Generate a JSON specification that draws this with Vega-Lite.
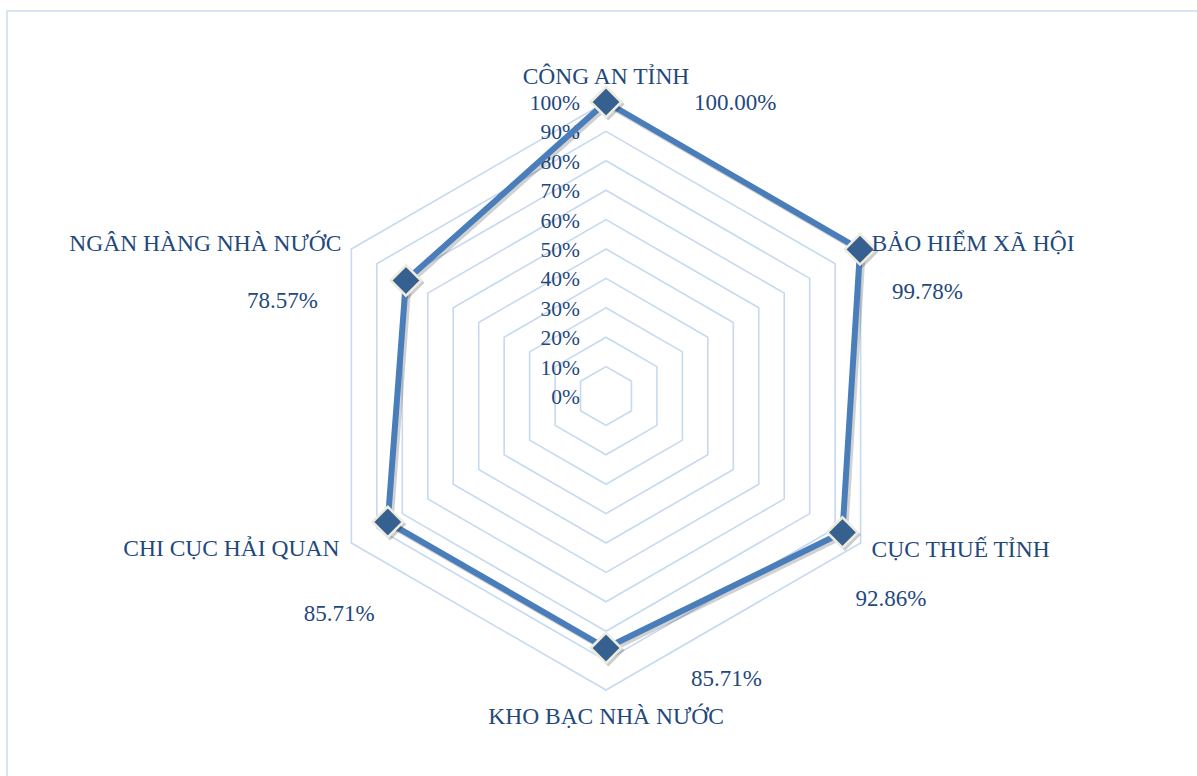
{
  "$schema": "https://vega.github.io/schema/vega-lite/v6.json",
  "width": 1197,
  "height": 776,
  "autosize": {"type": "none"},
  "padding": {"left": 7, "top": 11, "right": 0, "bottom": 0},
  "background": "#ffffff",
  "config": {
    "view": {"stroke": "#d9e4f2", "strokeWidth": 2},
    "text": {"font": "Liberation Serif", "fill": "#1f497d"}
  },
  "datasets": {
    "series": [
      {"cat": "CÔNG AN TỈNH", "idx": 0, "value": 100.0},
      {"cat": "BẢO HIỂM XÃ HỘI", "idx": 1, "value": 99.78},
      {"cat": "CỤC THUẾ TỈNH", "idx": 2, "value": 92.86},
      {"cat": "KHO BẠC NHÀ NƯỚC", "idx": 3, "value": 85.71},
      {"cat": "CHI CỤC HẢI QUAN", "idx": 4, "value": 85.71},
      {"cat": "NGÂN HÀNG NHÀ NƯỚC", "idx": 5, "value": 78.57}
    ],
    "levels": [
      {"level": 0, "k": [0, 1, 2, 3, 4, 5]},
      {"level": 10, "k": [0, 1, 2, 3, 4, 5]},
      {"level": 20, "k": [0, 1, 2, 3, 4, 5]},
      {"level": 30, "k": [0, 1, 2, 3, 4, 5]},
      {"level": 40, "k": [0, 1, 2, 3, 4, 5]},
      {"level": 50, "k": [0, 1, 2, 3, 4, 5]},
      {"level": 60, "k": [0, 1, 2, 3, 4, 5]},
      {"level": 70, "k": [0, 1, 2, 3, 4, 5]},
      {"level": 80, "k": [0, 1, 2, 3, 4, 5]},
      {"level": 90, "k": [0, 1, 2, 3, 4, 5]},
      {"level": 100, "k": [0, 1, 2, 3, 4, 5]}
    ]
  },
  "layer": [
    {
      "data": {"name": "levels"},
      "transform": [
        {"filter": "datum.level > 0"},
        {"flatten": ["k"]},
        {"calculate": "datum.level * sin(datum.k * PI / 3)", "as": "rx"},
        {"calculate": "datum.level * cos(datum.k * PI / 3)", "as": "ry"}
      ],
      "mark": {"type": "line", "interpolate": "linear-closed", "stroke": "#c6d9f0", "strokeWidth": 1.6},
      "encoding": {
        "x": {"field": "rx", "type": "quantitative", "axis": null, "scale": {"domain": [-203.74, 203.4], "nice": false, "zero": false}},
        "y": {"field": "ry", "type": "quantitative", "axis": null, "scale": {"domain": [-132.99, 130.95], "nice": false, "zero": false}},
        "detail": {"field": "level", "type": "nominal"},
        "order": {"field": "k", "type": "quantitative"}
      }
    },
    {
      "data": {"name": "levels"},
      "transform": [
        {"calculate": "datum.level + '%'", "as": "label"},
        {"calculate": "0", "as": "cx"}
      ],
      "mark": {"type": "text", "font": "Liberation Serif", "fill": "#1f497d", "align": "right", "baseline": "alphabetic", "dx": -26, "dy": 8, "fontSize": 21.5},
      "encoding": {
        "x": {"field": "cx", "type": "quantitative", "axis": null, "scale": {"domain": [-203.74, 203.4], "nice": false, "zero": false}},
        "y": {"field": "level", "type": "quantitative", "axis": null, "scale": {"domain": [-132.99, 130.95], "nice": false, "zero": false}},
        "text": {"field": "label", "type": "nominal"}
      }
    },
    {
      "data": {"name": "series"},
      "transform": [
        {"calculate": "datum.idx * PI / 3", "as": "a"},
        {"calculate": "datum.value * sin(datum.a)", "as": "px"},
        {"calculate": "datum.value * cos(datum.a)", "as": "py"},
        {"calculate": "datum.px + 0.8", "as": "sx"},
        {"calculate": "datum.py - 0.8", "as": "sy"},
        {"calculate": "100 * sin(datum.a)", "as": "ox"},
        {"calculate": "100 * cos(datum.a)", "as": "oy"},
        {"calculate": "format(datum.value, '.2f') + '%'", "as": "vlabel"}
      ],
      "layer": [
        {
          "mark": {"type": "line", "interpolate": "linear-closed", "stroke": "#000000", "strokeOpacity": 0.18, "strokeWidth": 6.5},
          "encoding": {
            "x": {"field": "sx", "type": "quantitative", "axis": null, "scale": {"domain": [-203.74, 203.4], "nice": false, "zero": false}},
            "y": {"field": "sy", "type": "quantitative", "axis": null, "scale": {"domain": [-132.99, 130.95], "nice": false, "zero": false}},
            "order": {"field": "idx", "type": "quantitative"}
          }
        },
        {
          "mark": {"type": "line", "interpolate": "linear-closed", "stroke": "#4a7ebb", "strokeWidth": 6},
          "encoding": {
            "x": {"field": "px", "type": "quantitative", "axis": null, "scale": {"domain": [-203.74, 203.4], "nice": false, "zero": false}},
            "y": {"field": "py", "type": "quantitative", "axis": null, "scale": {"domain": [-132.99, 130.95], "nice": false, "zero": false}},
            "order": {"field": "idx", "type": "quantitative"}
          }
        },
        {
          "mark": {"type": "point", "shape": "diamond", "filled": true, "fill": "#000000", "opacity": 0.2, "size": 1050, "strokeWidth": 0},
          "encoding": {
            "x": {"field": "sx", "type": "quantitative", "axis": null, "scale": {"domain": [-203.74, 203.4], "nice": false, "zero": false}},
            "y": {"field": "sy", "type": "quantitative", "axis": null, "scale": {"domain": [-132.99, 130.95], "nice": false, "zero": false}}
          }
        },
        {
          "mark": {"type": "point", "shape": "diamond", "filled": true, "fill": "#35608f", "stroke": "#eeebdf", "strokeWidth": 2.5, "opacity": 1, "size": 930},
          "encoding": {
            "x": {"field": "px", "type": "quantitative", "axis": null, "scale": {"domain": [-203.74, 203.4], "nice": false, "zero": false}},
            "y": {"field": "py", "type": "quantitative", "axis": null, "scale": {"domain": [-132.99, 130.95], "nice": false, "zero": false}}
          }
        },
        {
          "transform": [{"filter": "datum.idx == 0"}],
          "mark": {"type": "text", "font": "Liberation Serif", "fill": "#1f497d", "align": "center", "baseline": "alphabetic", "dy": -18, "fontSize": 23.5},
          "encoding": {
            "x": {"field": "ox", "type": "quantitative", "axis": null, "scale": {"domain": [-203.74, 203.4], "nice": false, "zero": false}},
            "y": {"field": "oy", "type": "quantitative", "axis": null, "scale": {"domain": [-132.99, 130.95], "nice": false, "zero": false}},
            "text": {"field": "cat", "type": "nominal"}
          }
        },
        {
          "transform": [{"filter": "datum.idx == 1"}],
          "mark": {"type": "text", "font": "Liberation Serif", "fill": "#1f497d", "align": "left", "baseline": "alphabetic", "dx": 11, "dy": 2, "fontSize": 23.5},
          "encoding": {
            "x": {"field": "ox", "type": "quantitative", "axis": null, "scale": {"domain": [-203.74, 203.4], "nice": false, "zero": false}},
            "y": {"field": "oy", "type": "quantitative", "axis": null, "scale": {"domain": [-132.99, 130.95], "nice": false, "zero": false}},
            "text": {"field": "cat", "type": "nominal"}
          }
        },
        {
          "transform": [{"filter": "datum.idx == 2"}],
          "mark": {"type": "text", "font": "Liberation Serif", "fill": "#1f497d", "align": "left", "baseline": "alphabetic", "dx": 11, "dy": 14, "fontSize": 23.5},
          "encoding": {
            "x": {"field": "ox", "type": "quantitative", "axis": null, "scale": {"domain": [-203.74, 203.4], "nice": false, "zero": false}},
            "y": {"field": "oy", "type": "quantitative", "axis": null, "scale": {"domain": [-132.99, 130.95], "nice": false, "zero": false}},
            "text": {"field": "cat", "type": "nominal"}
          }
        },
        {
          "transform": [{"filter": "datum.idx == 3"}],
          "mark": {"type": "text", "font": "Liberation Serif", "fill": "#1f497d", "align": "center", "baseline": "alphabetic", "dy": 34, "fontSize": 23.5},
          "encoding": {
            "x": {"field": "ox", "type": "quantitative", "axis": null, "scale": {"domain": [-203.74, 203.4], "nice": false, "zero": false}},
            "y": {"field": "oy", "type": "quantitative", "axis": null, "scale": {"domain": [-132.99, 130.95], "nice": false, "zero": false}},
            "text": {"field": "cat", "type": "nominal"}
          }
        },
        {
          "transform": [{"filter": "datum.idx == 4"}],
          "mark": {"type": "text", "font": "Liberation Serif", "fill": "#1f497d", "align": "right", "baseline": "alphabetic", "dx": -12, "dy": 13, "fontSize": 23.5},
          "encoding": {
            "x": {"field": "ox", "type": "quantitative", "axis": null, "scale": {"domain": [-203.74, 203.4], "nice": false, "zero": false}},
            "y": {"field": "oy", "type": "quantitative", "axis": null, "scale": {"domain": [-132.99, 130.95], "nice": false, "zero": false}},
            "text": {"field": "cat", "type": "nominal"}
          }
        },
        {
          "transform": [{"filter": "datum.idx == 5"}],
          "mark": {"type": "text", "font": "Liberation Serif", "fill": "#1f497d", "align": "right", "baseline": "alphabetic", "dx": -10, "dy": 2, "fontSize": 23.5},
          "encoding": {
            "x": {"field": "ox", "type": "quantitative", "axis": null, "scale": {"domain": [-203.74, 203.4], "nice": false, "zero": false}},
            "y": {"field": "oy", "type": "quantitative", "axis": null, "scale": {"domain": [-132.99, 130.95], "nice": false, "zero": false}},
            "text": {"field": "cat", "type": "nominal"}
          }
        },
        {
          "transform": [{"filter": "datum.idx == 0"}],
          "mark": {"type": "text", "font": "Liberation Serif", "fill": "#1f497d", "align": "left", "baseline": "alphabetic", "dx": 88, "dy": 8, "fontSize": 23},
          "encoding": {
            "x": {"field": "px", "type": "quantitative", "axis": null, "scale": {"domain": [-203.74, 203.4], "nice": false, "zero": false}},
            "y": {"field": "py", "type": "quantitative", "axis": null, "scale": {"domain": [-132.99, 130.95], "nice": false, "zero": false}},
            "text": {"field": "vlabel", "type": "nominal"}
          }
        },
        {
          "transform": [{"filter": "datum.idx == 1"}],
          "mark": {"type": "text", "font": "Liberation Serif", "fill": "#1f497d", "align": "left", "baseline": "alphabetic", "dx": 32, "dy": 50, "fontSize": 23},
          "encoding": {
            "x": {"field": "px", "type": "quantitative", "axis": null, "scale": {"domain": [-203.74, 203.4], "nice": false, "zero": false}},
            "y": {"field": "py", "type": "quantitative", "axis": null, "scale": {"domain": [-132.99, 130.95], "nice": false, "zero": false}},
            "text": {"field": "vlabel", "type": "nominal"}
          }
        },
        {
          "transform": [{"filter": "datum.idx == 2"}],
          "mark": {"type": "text", "font": "Liberation Serif", "fill": "#1f497d", "align": "left", "baseline": "alphabetic", "dx": 13, "dy": 73, "fontSize": 23},
          "encoding": {
            "x": {"field": "px", "type": "quantitative", "axis": null, "scale": {"domain": [-203.74, 203.4], "nice": false, "zero": false}},
            "y": {"field": "py", "type": "quantitative", "axis": null, "scale": {"domain": [-132.99, 130.95], "nice": false, "zero": false}},
            "text": {"field": "vlabel", "type": "nominal"}
          }
        },
        {
          "transform": [{"filter": "datum.idx == 3"}],
          "mark": {"type": "text", "font": "Liberation Serif", "fill": "#1f497d", "align": "left", "baseline": "alphabetic", "dx": 85, "dy": 38, "fontSize": 23},
          "encoding": {
            "x": {"field": "px", "type": "quantitative", "axis": null, "scale": {"domain": [-203.74, 203.4], "nice": false, "zero": false}},
            "y": {"field": "py", "type": "quantitative", "axis": null, "scale": {"domain": [-132.99, 130.95], "nice": false, "zero": false}},
            "text": {"field": "vlabel", "type": "nominal"}
          }
        },
        {
          "transform": [{"filter": "datum.idx == 4"}],
          "mark": {"type": "text", "font": "Liberation Serif", "fill": "#1f497d", "align": "left", "baseline": "alphabetic", "dx": -84, "dy": 99, "fontSize": 23},
          "encoding": {
            "x": {"field": "px", "type": "quantitative", "axis": null, "scale": {"domain": [-203.74, 203.4], "nice": false, "zero": false}},
            "y": {"field": "py", "type": "quantitative", "axis": null, "scale": {"domain": [-132.99, 130.95], "nice": false, "zero": false}},
            "text": {"field": "vlabel", "type": "nominal"}
          }
        },
        {
          "transform": [{"filter": "datum.idx == 5"}],
          "mark": {"type": "text", "font": "Liberation Serif", "fill": "#1f497d", "align": "left", "baseline": "alphabetic", "dx": -159, "dy": 27, "fontSize": 23},
          "encoding": {
            "x": {"field": "px", "type": "quantitative", "axis": null, "scale": {"domain": [-203.74, 203.4], "nice": false, "zero": false}},
            "y": {"field": "py", "type": "quantitative", "axis": null, "scale": {"domain": [-132.99, 130.95], "nice": false, "zero": false}},
            "text": {"field": "vlabel", "type": "nominal"}
          }
        }
      ]
    }
  ]
}
